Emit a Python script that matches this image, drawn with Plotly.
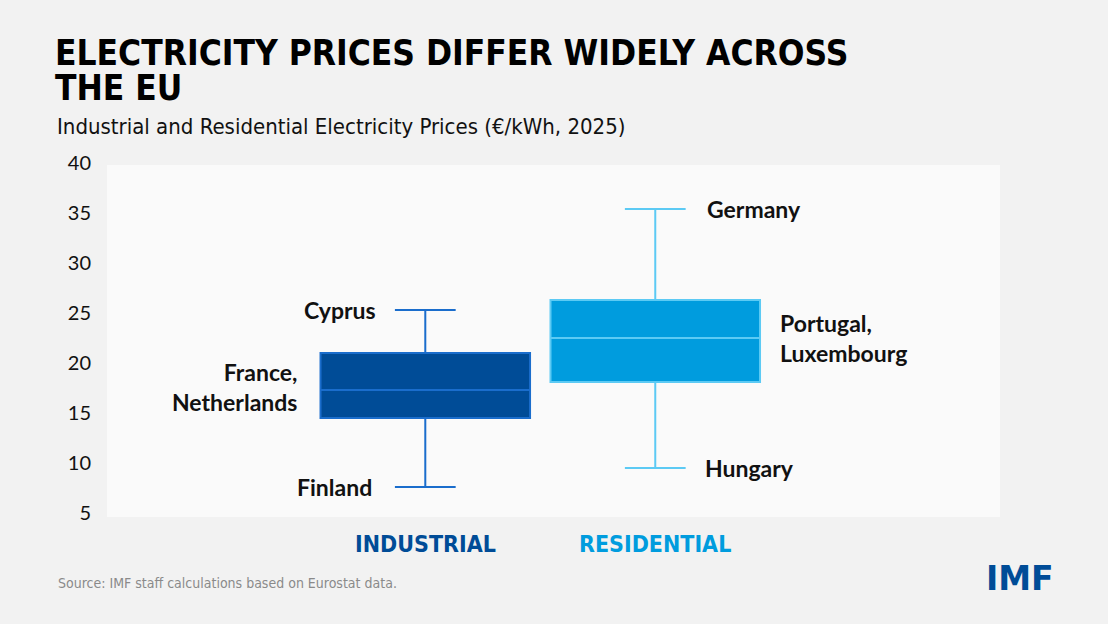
import plotly.graph_objects as go

# ---- data ----
categories = ["INDUSTRIAL", "RESIDENTIAL"]
q1 = [14.5, 18.1]
median = [17.3, 22.5]
q3 = [21.0, 26.3]
lower = [7.6, 9.5]
upper = [25.3, 35.4]
high_label = ["Cyprus", "Germany"]
mid_label = ["France,<br>Netherlands", "Portugal,<br>Luxembourg"]
low_label = ["Finland", "Hungary"]
y_ticks = [5, 10, 15, 20, 25, 30, 35, 40]
title_lines = ["ELECTRICITY PRICES DIFFER WIDELY ACROSS", "THE EU"]
subtitle = "Industrial and Residential Electricity Prices (€/kWh, 2025)"
source = "Source: IMF staff calculations based on Eurostat data."

fills = ["#004c97", "#009cde"]
lines = ["#1a6dcc", "#5ccaf4"]

TITLE_FONT = "DejaVu Sans Condensed, sans-serif"
BODY_FONT = "Lato, Noto Sans, sans-serif"

fig = go.Figure()
for i, c in enumerate(categories):
    fig.add_trace(go.Box(
        x=[i], q1=[q1[i]], median=[median[i]], q3=[q3[i]],
        lowerfence=[lower[i]], upperfence=[upper[i]],
        width=0.911, whiskerwidth=0.29,
        fillcolor=fills[i], line=dict(color=lines[i], width=2),
        boxpoints=False, name=c, showlegend=False, hoverinfo="skip",
    ))

ann = []
lab_font = dict(family=BODY_FONT, size=23, color="#111111", weight=700)
for i in range(2):
    if i == 0:
        xa = "right"
        sh_hi, sh_mid, sh_lo = -47, -126, -51
    else:
        xa = "left"
        sh_hi, sh_mid, sh_lo = 50, 123, 48
    ann.append(dict(x=i, y=upper[i], xref="x", yref="y", text=high_label[i], showarrow=False,
                    xanchor=xa, yanchor="middle", xshift=sh_hi, font=lab_font))
    ann.append(dict(x=i, y=median[i], xref="x", yref="y", text=mid_label[i], showarrow=False,
                    xanchor=xa, yanchor="middle", xshift=sh_mid, yshift=3 if i == 0 else 0,
                    align="left" if i == 1 else "right", font=lab_font))
    ann.append(dict(x=i, y=lower[i], xref="x", yref="y", text=low_label[i], showarrow=False,
                    xanchor=xa, yanchor="middle", xshift=sh_lo, font=lab_font))
    ann.append(dict(x=i, y=-0.088, xref="x", yref="paper", text="<b>" + categories[i] + "</b>",
                    showarrow=False, xanchor="center", yanchor="middle",
                    font=dict(family=TITLE_FONT, size=23, color=fills[i])))


def px_x(px):
    return (px - 107) / 893


def px_y(py):
    return (513 - py) / 350


for k, (line_text, cy) in enumerate(zip(title_lines, [53, 88])):
    ann.append(dict(x=px_x(53), y=px_y(cy), xref="paper", yref="paper",
                    text="<b>" + line_text + "</b>",
                    showarrow=False, xanchor="left", yanchor="middle", align="left",
                    font=dict(family=TITLE_FONT, size=35, color="#000000")))
ann.append(dict(x=px_x(55), y=px_y(126), xref="paper", yref="paper",
                text=subtitle, showarrow=False, xanchor="left", yanchor="middle",
                font=dict(family=TITLE_FONT, size=22, color="#111111")))
ann.append(dict(x=px_x(56), y=px_y(583), xref="paper", yref="paper",
                text=source, showarrow=False, xanchor="left", yanchor="middle",
                font=dict(family=TITLE_FONT, size=14, color="#8a8a8a")))
ann.append(dict(x=px_x(1056), y=px_y(578), xref="paper", yref="paper",
                text="<b>IMF</b>", showarrow=False, xanchor="right", yanchor="middle",
                font=dict(family="DejaVu Sans, sans-serif", size=33, color="#004c97")))

fig.update_layout(
    width=1108, height=624,
    margin=dict(l=107, r=108, t=163, b=111),
    paper_bgcolor="#f2f2f2",
    plot_bgcolor="rgba(0,0,0,0)",
    annotations=ann,
    shapes=[dict(type="rect", xref="paper", yref="paper", x0=0, x1=1,
                 y0=-4 / 350, y1=348 / 350, fillcolor="#fafafa", line=dict(width=0),
                 layer="below")],
    xaxis=dict(range=[-1.384, 2.499], showgrid=False, zeroline=False,
               showticklabels=False, showline=False, fixedrange=True),
    yaxis=dict(range=[5, 40], tickvals=y_ticks, showgrid=False, zeroline=False,
               showline=False, ticks="", ticklabelstandoff=15,
               tickfont=dict(family=BODY_FONT, size=20, color="#111111")),
)

fig.write_html("out.html")
